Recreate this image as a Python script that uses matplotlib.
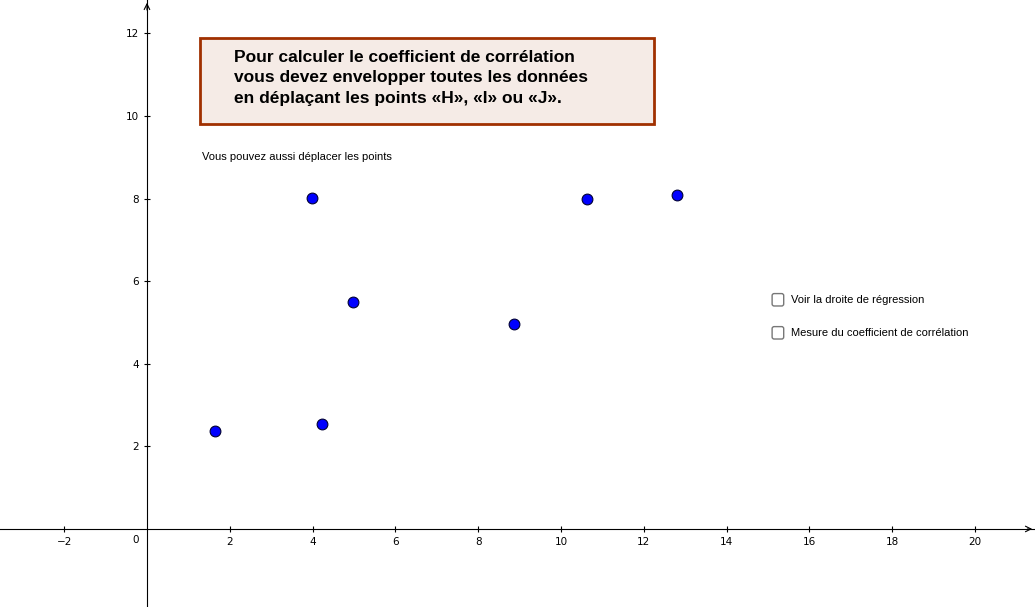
import matplotlib
matplotlib.use("Agg")
import matplotlib.pyplot as plt
from matplotlib.patches import Rectangle, FancyBboxPatch

xs = [1.64, 3.99, 4.23, 4.98, 8.86, 10.63, 12.8]
ys = [2.37, 8.01, 2.54, 5.50, 4.96, 7.99, 8.09]
xticks = [-2, 2, 4, 6, 8, 10, 12, 14, 16, 18, 20]
yticks = [2, 4, 6, 8, 10, 12]

fig = plt.figure(figsize=(10.35, 6.07), dpi=100)
ax = fig.add_axes([0, 0, 1, 1])
ax.set_xlim(-3.55, 21.45)
ax.set_ylim(-1.89, 12.81)
for s in ["top", "right"]:
    ax.spines[s].set_visible(False)
ax.spines["left"].set_position(("data", 0))
ax.spines["bottom"].set_position(("data", 0))
ax.set_xticks(xticks)
ax.set_yticks(yticks)
ax.tick_params(direction="inout", length=5, labelsize=7.5)
ax.set_xticklabels(["\u22122"] + [str(t) for t in xticks[1:]])
ax.text(-0.2, -0.15, "0", ha="right", va="top", fontsize=7.5)
ax.annotate("", xy=(21.45, 0), xytext=(21.2, 0), arrowprops=dict(arrowstyle="->", lw=0.8))
ax.annotate("", xy=(0, 12.81), xytext=(0, 12.5), arrowprops=dict(arrowstyle="->", lw=0.8))

ax.scatter(xs, ys, s=60, c="#0000ff", edgecolors="#000033", linewidths=0.8, zorder=5)

ax.add_patch(Rectangle((1.28, 9.8), 10.97, 2.09, facecolor="#f5ebe6", edgecolor="#a03000", lw=2, zorder=3))
ax.text(2.1, 11.6, "Pour calculer le coefficient de corrélation\nvous devez envelopper toutes les données\nen déplaçant les points «H», «I» ou «J».",
        fontsize=12.5, fontweight="bold", va="top", ha="left", linespacing=1.45, zorder=4,
        family="Liberation Sans")
ax.text(1.33, 9.0, "Vous pouvez aussi déplacer les points", fontsize=8, va="center", family="Liberation Sans")

for yy, lab in [(5.55, "Voir la droite de régression"), (4.75, "Mesure du coefficient de corrélation")]:
    ax.add_patch(FancyBboxPatch((15.1, yy - 0.15), 0.28, 0.3, boxstyle="round,pad=0,rounding_size=0.05",
                                facecolor="white", edgecolor="#777777", lw=1))
    ax.text(15.55, yy, lab, fontsize=8, va="center", family="Liberation Sans")

fig.savefig("out.png", dpi=100)
